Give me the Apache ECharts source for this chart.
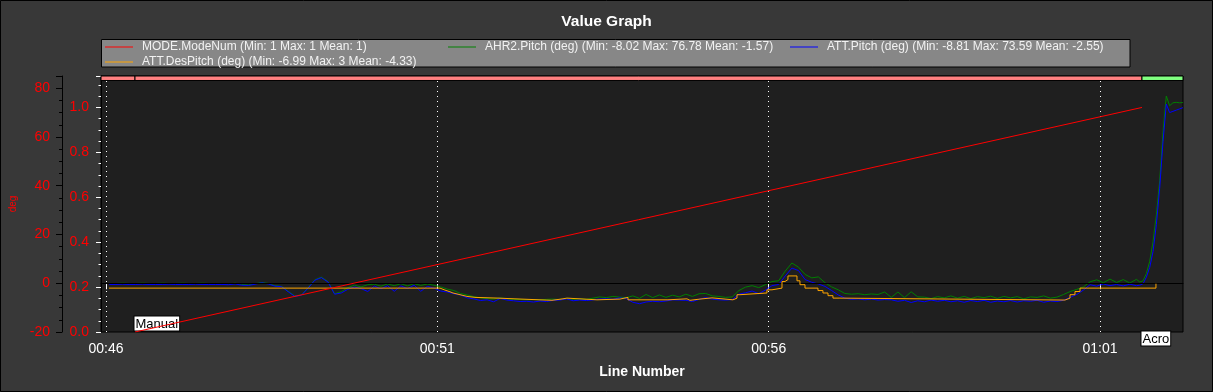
<!DOCTYPE html>
<html><head><meta charset="utf-8">
<script src="https://cdn.jsdelivr.net/npm/echarts@6/dist/echarts.min.js"></script>
<style>html,body{margin:0;padding:0;background:#383838}#c{width:1213px;height:392px}</style>
</head><body><div id="c"></div>
<script>
// ---------------- data ----------------
const seriesNames = [
  'MODE.ModeNum (Min: 1 Max: 1 Mean: 1)',
  'AHR2.Pitch (deg) (Min: -8.02 Max: 76.78 Mean: -1.57)',
  'ATT.Pitch (deg) (Min: -8.81 Max: 73.59 Mean: -2.55)',
  'ATT.DesPitch (deg) (Min: -6.99 Max: 3 Mean: -4.33)'
];
const seriesColors = ['#FF0000', '#008000', '#0000FF', '#FFA500'];

// pitch logs sampled every 0.1 s from 46.05 s
const pitchStart = 46.05, pitchStep = 0.1;
const attPitch = [
  -0.5,-0.5,-0.4,-0.5,-0.5,-0.4,-0.5,-0.5,-0.5,-0.4,-0.5,-0.5,-0.5,-0.4,-0.5,-0.5,-0.5,-0.5,
  -0.6,-0.3,-0.8,-0.9,-0.4,0.2,-0.3,-1.2,-1.4,-3.5,-5.4,-4.9,
  -2.0,1.2,2.3,0.5,-4.5,-4.0,-2.5,-1.5,-2.2,-3.4,
  -1.2,-2.3,-1.0,-3.3,-1.1,-2.2,-0.8,-3.3,-1.3,-2.0,
  -3.2,-3.6,-4.3,-4.8,-6.0,-6.4,-7.1,-6.8,-7.6,-6.2,
  -6.9,-7.2,-7.5,-7.4,-7.7,-7.3,-7.5,-7.0,-6.9,-6.4,
  -7.2,-6.9,-7.1,-6.8,-6.5,-6.4,-6.6,-6.0,-6.3,-7.8,
  -8.4,-7.7,-7.4,-7.6,-7.3,-6.8,-6.9,-7.0,-7.5,-6.6,
  -5.9,-6.5,-6.8,-6.9,-6.7,-4.5,-3.9,-3.2,-4.3,-2.8,
  -1.0,-0.5,3.0,6.2,5.2,1.5,0.4,-0.3,-1.3,-3.0,
  -4.8,-6.1,-6.6,-6.4,-6.8,-6.5,-6.9,-6.7,-6.8,-7.4,
  -7.0,-7.9,-7.2,-7.6,-6.9,-7.4,-7.0,-7.6,-7.2,-7.8,
  -7.1,-7.5,-7.0,-7.8,-7.3,-7.6,-7.1,-7.7,-7.2,-7.4,
  -7.0,-7.8,-7.3,-7.5,-7.0,-5.8,-4.6,-2.8,-0.6,-1.2,
  -0.3,-1.0,-0.5,-1.1,-0.4,-1.0
];
const ahr2Pitch = [
  -0.1,-0.1,0.0,-0.1,-0.1,0.0,-0.1,-0.1,0.0,-0.1,-0.1,0.0,-0.1,-0.1,0.0,-0.1,-0.1,-0.1,
  -0.3,0.0,-0.5,-0.7,-0.2,0.3,-0.1,-1.0,-1.3,-3.3,-5.2,-4.8,
  -1.8,1.4,2.5,0.7,-4.3,-3.5,-1.8,-0.8,-1.5,-0.6,
  -0.4,-1.2,-0.3,-1.0,-0.2,-1.1,-0.2,-0.9,-0.3,-0.8,
  -1.5,-2.4,-3.0,-4.2,-4.8,-5.5,-6.0,-6.3,-6.5,-6.0,
  -6.4,-6.6,-6.7,-6.8,-6.7,-6.8,-6.6,-6.5,-6.7,-6.2,
  -6.6,-6.4,-6.6,-6.1,-5.6,-5.9,-5.4,-5.7,-5.9,-5.2,
  -6.2,-4.6,-5.9,-4.8,-5.8,-4.9,-5.6,-4.5,-5.4,-4.3,
  -4.2,-5.2,-5.4,-5.8,-5.6,-3.0,-1.6,-1.0,-1.8,-0.6,
  0.7,1.0,5.0,8.3,6.6,3.6,2.2,2.6,0.2,-1.5,
  -2.7,-4.2,-4.5,-4.3,-4.7,-4.4,-4.6,-3.6,-5.8,-3.6,
  -5.9,-3.5,-5.6,-5.7,-6.3,-5.5,-6.0,-5.2,-6.1,-5.4,
  -6.3,-5.5,-5.9,-5.3,-6.2,-5.4,-6.0,-5.5,-6.4,-5.6,
  -5.8,-5.2,-6.1,-5.7,-4.6,-3.4,-2.5,-1.5,0.6,1.4,
  0.2,1.7,0.3,1.5,0.1,1.6
];
// final pitch-up, finer samples
const tailTimes = [61.60,61.65,61.70,61.75,61.80,61.85,61.90,61.95,62.00,62.05,62.10,62.15,62.20,62.25];
const attPitchTail = [-0.8,-0.2,2.5,6.5,13,24,39,58,73.5,70,70.5,71,71.5,72];
const ahr2PitchTail = [0.5,1.0,4,9,17,28,42,62,76.8,72.8,74,74.2,74,74.1];

// desired pitch: [time s, value] step changes
const desPitch = [
  [46.045,-2.0],[51.040,-2.8],[51.115,-3.5],[51.191,-4.0],[51.236,-4.7],[51.342,-5.4],[51.447,-5.8],
  [51.568,-6.1],[51.915,-5.6],[51.945,-6.4],[52.172,-7.0],[52.730,-6.4],[52.896,-6.1],[52.956,-6.8],
  [53.409,-6.5],[53.756,-5.8],[53.877,-6.8],[54.480,-6.4],[54.767,-7.0],[54.812,-6.5],[54.963,-6.0],
  [55.144,-6.8],[55.461,-6.1],[55.522,-4.7],[55.567,-4.0],[55.974,-2.7],[56.050,-2.0],[56.201,0.7],
  [56.246,1.5],[56.291,3.0],[56.427,1.0],[56.472,-0.6],[56.548,-2.0],[56.744,-3.0],[56.819,-4.0],
  [56.895,-5.1],[56.970,-6.1],[57.076,-6.9],[60.471,-6.1],[60.547,-4.7],[60.622,-3.4],[60.698,-2.0],
  [61.844,-0.2]
];

// flight modes
const modeNames = ['Manual', 'Acro'];
const modeTimes = [46.438, 61.633];
const modeNums = [0, 1];
const modeBarColors = ['#FF8080', '#FF8080', '#80FF80']; // before first, Manual, Acro

// axes
const xMin = 45.925, xMax = 62.252;
const xTicks = [46, 51, 56, 61];
const degMin = -20, degMax = 85;
const degTicks = [-20, 0, 20, 40, 60, 80, 85];
const degMinorTicks = [-15,-10,-5,5,10,15,25,30,35,45,50,55,65,70,75];
const modeMin = 0, modeMax = 1.14;
const modeTicks = [0, 0.2, 0.4, 0.6, 0.8, 1.0, 1.14];
const modeMinorTicks = [0.05,0.1,0.15,0.25,0.3,0.35,0.45,0.5,0.55,0.65,0.7,0.75,0.85,0.9,0.95,1.05,1.1];
const modeBarBottom = 1.12;

// ---------------- build ----------------
const FONT = 'Liberation Sans, Arial, sans-serif';
const pad2 = n => (n < 10 ? '0' : '') + n;
const fmtTime = v => { const m = Math.floor(v / 60); const s = Math.round(v - m * 60); return pad2(m) + ':' + pad2(s); };

const attData = attPitch.map((v, i) => [pitchStart + i * pitchStep, v])
  .concat(tailTimes.map((t, i) => [t, attPitchTail[i]]));
const ahrData = ahr2Pitch.map((v, i) => [pitchStart + i * pitchStep, v])
  .concat(tailTimes.map((t, i) => [t, ahr2PitchTail[i]]));
const modeData = modeTimes.map((t, i) => [t, modeNums[i]]);

const bounds = [xMin].concat(modeTimes, [xMax]);
const modeBar = modeBarColors.map((c, i) => [
  { xAxis: bounds[i], yAxis: modeBarBottom, itemStyle: { color: c, borderColor: '#000', borderWidth: 1 } },
  { xAxis: bounds[i + 1], yAxis: modeMax }
]);

const legendCols = [105, 448, 790, 105];
const legendRows = [40, 40, 40, 55];
const legends = seriesNames.map((n, i) => ({
  data: [n], left: legendCols[i], top: legendRows[i], padding: 0, z: 10,
  icon: 'rect', itemWidth: 28, itemHeight: 1, selectedMode: false,
  textStyle: { color: '#f2f2f2', fontSize: 12, fontFamily: FONT, lineHeight: 14, padding: [0, 0, 0, 4] }
}));

const chart = echarts.init(document.getElementById('c'), null, { renderer: 'canvas' });
chart.setOption({
  backgroundColor: '#383838',
  animation: false,
  title: {
    text: 'Value Graph', left: 'center', top: 9,
    textStyle: { color: '#ffffff', fontSize: 15.5, fontWeight: 'bold', fontFamily: FONT }
  },
  graphic: [
    { type: 'rect', z: 1, shape: { x: 101.5, y: 39.5, width: 1028.5, height: 27.5 },
      style: { fill: '#878787', stroke: '#000', lineWidth: 1 } },
    { type: 'rect', z: 100, silent: true, shape: { x: 0.5, y: 0.5, width: 1212, height: 391 },
      style: { fill: 'none', stroke: '#000', lineWidth: 1 } }
  ],
  legend: legends,
  grid: { left: 101, right: 30, top: 76, bottom: 60, show: true, backgroundColor: '#1f1f1f', borderColor: '#000', borderWidth: 1 },
  xAxis: {
    type: 'value', min: xMin, max: xMax,
    name: 'Line Number', nameLocation: 'middle', nameGap: 33,
    nameTextStyle: { color: '#ffffff', fontSize: 14, fontWeight: 'bold', fontFamily: FONT },
    axisLine: { show: true, lineStyle: { color: '#000' } },
    axisTick: { show: true, customValues: xTicks, length: 6, lineStyle: { color: '#ffffff' } },
    axisLabel: { customValues: xTicks, color: '#ffffff', fontSize: 14, fontFamily: FONT, margin: 10, formatter: fmtTime },
    splitLine: { show: true, lineStyle: { color: '#ffffff', type: [1, 4], width: 1 } }
  },
  yAxis: [
    { // deg axis
      type: 'value', min: degMin, max: degMax, position: 'left', offset: 39,
      name: 'deg', nameLocation: 'middle', nameGap: 44, nameRotate: 90,
      nameTextStyle: { color: '#FF0000', fontSize: 10, fontFamily: FONT },
      axisLine: { show: true, lineStyle: { color: '#000' } },
      axisTick: { show: true, customValues: degTicks, length: 6, lineStyle: { color: '#000' } },
      axisLabel: { customValues: degTicks.slice(0, -1), color: '#FF0000', fontSize: 14, fontFamily: FONT, margin: 12 },
      splitLine: { show: false }
    },
    { // mode axis
      type: 'value', min: modeMin, max: modeMax, position: 'left', offset: 0,
      axisLine: { show: true, lineStyle: { color: '#000' } },
      axisTick: { show: true, customValues: modeTicks, length: 5, lineStyle: { color: '#ffffff' } },
      axisLabel: { customValues: modeTicks.slice(0, -1), color: '#FF0000', fontSize: 14, fontFamily: FONT, margin: 12,
        formatter: v => v.toFixed(1) },
      splitLine: { show: false }
    },
    { // deg minor ticks
      type: 'value', min: degMin, max: degMax, position: 'left', offset: 39,
      axisLine: { show: false },
      axisTick: { show: true, customValues: degMinorTicks, length: 3, lineStyle: { color: '#000' } },
      axisLabel: { show: false }, splitLine: { show: false }
    },
    { // mode minor ticks
      type: 'value', min: modeMin, max: modeMax, position: 'left', offset: 0,
      axisLine: { show: false },
      axisTick: { show: true, customValues: modeMinorTicks, length: 2.5, lineStyle: { color: '#ffffff' } },
      axisLabel: { show: false }, splitLine: { show: false }
    }
  ],
  series: [
    {
      name: seriesNames[0], type: 'line', yAxisIndex: 1, data: modeData, z: 6,
      color: seriesColors[0], showSymbol: false, lineStyle: { width: 1, color: seriesColors[0] },
      markArea: { silent: true, data: modeBar },
      markPoint: {
        symbol: 'rect', symbolSize: 1, itemStyle: { color: 'rgba(0,0,0,0)' }, silent: true,
        data: modeNames.map((n, i) => ({
          coord: [modeTimes[i], modeNums[0]], name: n,
          label: { position: i === 0 ? [0, -15] : [0, 0] }
        })),
        label: {
          show: true, formatter: '{b}', color: '#000', backgroundColor: '#fff', borderColor: '#000', borderWidth: 1,
          padding: [1, 1, 0, 1], fontSize: 13, lineHeight: 13, fontFamily: FONT
        }
      }
    },
    {
      name: seriesNames[1], type: 'line', yAxisIndex: 0, data: ahrData, z: 3,
      color: seriesColors[1], showSymbol: false, lineStyle: { width: 1, color: seriesColors[1] }
    },
    {
      name: seriesNames[2], type: 'line', yAxisIndex: 0, data: attData, z: 4,
      color: seriesColors[2], showSymbol: false, lineStyle: { width: 1, color: seriesColors[2] },
      markLine: {
        silent: true, symbol: ['none', 'none'], label: { show: false },
        lineStyle: { color: '#000', width: 1, type: 'solid' },
        data: [{ yAxis: 0 }]
      }
    },
    {
      name: seriesNames[3], type: 'line', yAxisIndex: 0, data: desPitch, z: 5, step: 'end',
      color: seriesColors[3], showSymbol: false, lineStyle: { width: 1, color: seriesColors[3] }
    }
  ]
});
</script></body></html>
